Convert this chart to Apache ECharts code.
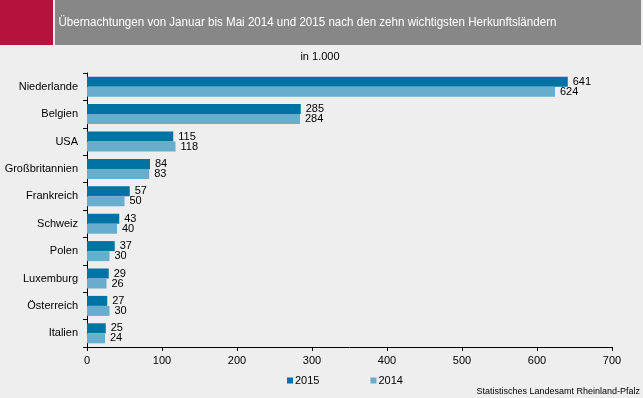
<!DOCTYPE html>
<html><head><meta charset="utf-8">
<script src="https://cdn.jsdelivr.net/npm/echarts@6/dist/echarts.min.js"></script>
<style>html,body{margin:0;padding:0;background:#EDEEED}#c{width:643px;height:398px}</style>
</head><body><div id="c"></div>
<script>
const categories = ['Niederlande','Belgien','USA','Großbritannien','Frankreich','Schweiz','Polen','Luxemburg','Österreich','Italien'];
const values2015 = [641,285,115,84,57,43,37,29,27,25];
const values2014 = [624,284,118,83,50,40,30,26,30,24];
const xTicks = [0,100,200,300,400,500,600,700];
const titleText = 'Übernachtungen von Januar bis Mai 2014 und 2015 nach den zehn wichtigsten Herkunftsländern';
const unitText = 'in 1.000';
const sourceText = 'Statistisches Landesamt Rheinland-Pfalz';

const chart = echarts.init(document.getElementById('c'), null, {renderer:'canvas'});
const font = 'Liberation Sans, Arial, sans-serif';
chart.setOption({
  backgroundColor:'#EDEEED',
  animation:false,
  textStyle:{fontFamily:font},
  graphic:[
    {type:'rect',shape:{x:0,y:0,width:53,height:45},style:{fill:'#B5123E'}},
    {type:'rect',shape:{x:55,y:0,width:586,height:45},style:{fill:'#878787'}},
    {type:'text',x:58.5,y:22.5,scaleX:0.927,style:{text:titleText,fill:'#fff',font:'12.5px '+font,verticalAlign:'middle'}},
    {type:'text',x:320,y:57,style:{text:unitText,fill:'#000',font:'11px '+font,align:'center',verticalAlign:'middle'}},
    {type:'text',x:640,y:391.5,style:{text:sourceText,fill:'#000',font:'9px '+font,align:'right',verticalAlign:'middle'}}
  ],
  legend:{
    data:['2015','2014'],left:287,top:375,itemWidth:6,itemHeight:6,itemGap:51,icon:'rect',padding:0,
    textStyle:{fontSize:11,color:'#000',fontFamily:font,padding:[0,0,0,-3]}
  },
  grid:{left:87,right:31,top:73,bottom:51,containLabel:false},
  xAxis:{type:'value',min:0,max:700,interval:100,
    axisLine:{show:true,lineStyle:{color:'#000'}},
    axisTick:{show:true,length:4,lineStyle:{color:'#000'}},
    splitLine:{show:false},
    axisLabel:{color:'#000',fontSize:11,margin:8,fontFamily:font,
      formatter:v=>xTicks.includes(v)?String(v):''}},
  yAxis:{type:'category',data:categories,inverse:true,
    axisLine:{show:true,lineStyle:{color:'#000'}},
    axisTick:{show:true,length:4,lineStyle:{color:'#000'}},
    axisLabel:{color:'#000',fontSize:11,margin:9,fontFamily:font}},
  series:[
    {name:'2015',type:'bar',data:values2015,barWidth:10,barGap:'0%',itemStyle:{color:'#0072A3'},
      label:{show:true,position:'right',distance:5,color:'#000',fontSize:11,fontFamily:font}},
    {name:'2014',type:'bar',data:values2014,barWidth:10,barGap:'0%',itemStyle:{color:'#68ADCB'},
      label:{show:true,position:'right',distance:5,color:'#000',fontSize:11,fontFamily:font}}
  ]
});
</script></body></html>
